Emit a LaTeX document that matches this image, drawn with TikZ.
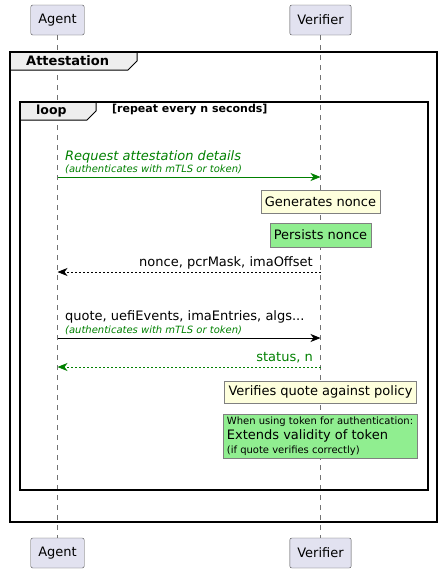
\documentclass[tikz,border=0pt]{standalone}
\usepackage{fontspec}
\setmainfont{DejaVu Sans}
\usetikzlibrary{arrows.meta,positioning}
\definecolor{partfill}{HTML}{E2E2F0}
\definecolor{notefill}{HTML}{FEFFDD}
\definecolor{notegreen}{HTML}{90EE90}
\definecolor{msggreen}{HTML}{008000}
\definecolor{tabfill}{HTML}{EEEEEE}
\newcommand{\fs}[1]{\fontsize{#1}{#1}\selectfont}

\begin{document}
\begin{tikzpicture}[x=1pt,y=-1pt,
    part/.style={draw=black!70, fill=partfill, rounded corners=2pt,
      minimum height=30pt, inner xsep=7.5pt, font=\fs{13}},
    life/.style={draw=black!55, dash pattern=on 5pt off 5pt},
    frame/.style={draw=black, line width=1.5pt},
    tab/.style={draw=black, line width=1pt, fill=tabfill},
    msg/.style={-{Stealth[length=10pt,width=8pt,inset=3pt]}, line width=0.8pt},
    reply/.style={msg, dash pattern=on 2pt off 2pt},
    label/.style={inner sep=0pt, font=\fs{13}},
    sublabel/.style={inner sep=0pt, font=\fs{10}\itshape, text=msggreen},
    note/.style={draw=black!50, fill=notefill, inner sep=4pt, font=\fs{13}},
    gnote/.style={note, fill=notegreen}]

    \useasboundingbox (0,0) rectangle (442,573);

    % participants
    \node[part] (agentTop) at (57.5,20) {Agent};
    \node[part] (verTop) at (320.5,20) {Verifier};
    \node[part] (agentBot) at (57.5,553) {Agent};
    \node[part] (verBot) at (320.5,553) {Verifier};

    \draw[life] (agentTop) -- (agentBot);
    \draw[life] (verTop) -- (verBot);

    % groups
    \draw[frame] (10,52) rectangle (437,522);
    \draw[tab] (10,52) -- (10,70) -- (128,70) -- (137,61) -- (137,52);
    \draw[frame] (10,52) rectangle (437,522);
    \node[label, anchor=west, font=\fs{13}\bfseries] (grpTitle) at (26,61) {Attestation};

    \draw[frame] (20,102) rectangle (428,490);
    \draw[tab] (20,102) -- (20,120) -- (87,120) -- (96,111) -- (96,102);
    \draw[frame] (20,102) rectangle (428,490);
    \node[label, anchor=west, font=\fs{12.5}\bfseries] (loopTitle) at (36,111) {loop};
    \node[label, anchor=west, font=\fs{11}\bfseries] (loopCond) at (112,110) {[repeat every n seconds]};

    % request
    \coordinate (a1) at (57.5,177);
    \coordinate (v1) at (320.5,177);
    \draw[msg, draw=msggreen] (a1) -- (v1);
    \node[label, anchor=west, font=\fs{13}\itshape, text=msggreen] (reqTxt) at (65,157) {Request attestation details};
    \node[sublabel, anchor=west] (reqSub) at (65,169.5) {(authenticates with mTLS or token)};

    \node[note, minimum height=23pt] (genNote) at (320.5,201.5) {Generates nonce};
    \node[gnote, minimum height=24pt] (perNote) at (320.5,235) {Persists nonce};

    % reply
    \coordinate (v2) at (320.5,272);
    \coordinate (a2) at (57.5,272);
    \draw[reply] (v2) -- (a2);
    \node[label, anchor=east] (nonceTxt) at (313,263) {nonce, pcrMask, imaOffset};

    % quote
    \coordinate (a3) at (57.5,338);
    \coordinate (v3) at (320.5,338);
    \draw[msg] (a3) -- (v3);
    \node[label, anchor=west] (quoteTxt) at (65,317) {quote, uefiEvents, imaEntries, algs...};
    \node[sublabel, anchor=west] (quoteSub) at (65,330) {(authenticates with mTLS or token)};

    \coordinate (v4) at (320.5,367);
    \coordinate (a4) at (57.5,367);
    \draw[reply, draw=msggreen] (v4) -- (a4);
    \node[label, anchor=east, text=msggreen] (statTxt) at (313,358) {status, n};

    % notes
    \node[note, minimum height=22pt] (verNote) at (320.5,392) {Verifies quote against policy};
    \node[gnote, align=left, inner ysep=3pt] (tokNote) at (320,436)
      {{\fs{10}When using token for authentication:}\\[1.5pt]
       {\fs{13}Extends validity of token}\\[1pt]
       {\fs{10}(if quote verifies correctly)}};

\end{tikzpicture}
\end{document}
